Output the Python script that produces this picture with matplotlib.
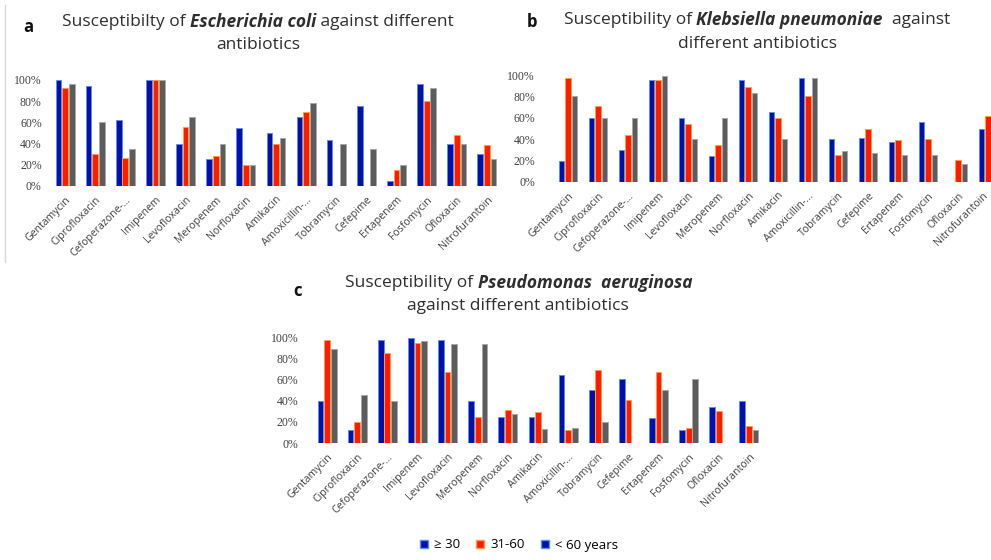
import numpy as np
import matplotlib
matplotlib.use('Agg')
import matplotlib.pyplot as plt
import matplotlib.transforms as mtransforms
from matplotlib.patches import Patch

# antibiotics (same order in all three panels)
antibiotics = ['Gentamycin', 'Ciprofloxacin', 'Cefoperazone-…', 'Imipenem', 'Levofloxacin',
               'Meropenem', 'Norfloxacin', 'Amikacin', 'Amoxicillin-…', 'Tobramycin',
               'Cefepime', 'Ertapenem', 'Fosfomycin', 'Ofloxacin', 'Nitrofurantoin']
legend_labels = ['≥ 30', '31-60', '< 60 years']

# a - Escherichia coli
ecoli_30 = [100, 94, 62, 100, 40, 25, 55, 50, 65, 43, 75, 5, 96, 40, 30]
ecoli_31_60 = [92, 30, 26, 100, 56, 28, 20, 40, 70, 0, 0, 15, 80, 48, 39]
ecoli_60 = [96, 60, 35, 100, 65, 40, 20, 45, 78, 40, 35, 20, 92, 40, 25]

# b - Klebsiella pneumoniae
kleb_30 = [20, 60, 30, 95, 60, 24, 95, 65, 97, 40, 41, 37, 56, 0, 50]
kleb_31_60 = [97, 71, 44, 95, 54, 35, 89, 60, 80, 25, 50, 39, 40, 21, 62]
kleb_60 = [80, 60, 60, 99, 40, 60, 83, 40, 97, 29, 27, 25, 25, 17, 45]

# c - Pseudomonas aeruginosa
pseudo_30 = [40, 12, 97, 99, 97, 40, 25, 25, 64, 50, 60, 24, 12, 34, 40]
pseudo_31_60 = [97, 20, 85, 94, 67, 25, 31, 29, 12, 69, 41, 67, 14, 30, 16]
pseudo_60 = [89, 45, 40, 96, 93, 93, 27, 13, 14, 20, 0, 50, 60, 0, 12]

W, H = 991, 560
fig = plt.figure(figsize=(W / 100, H / 100), dpi=100)

colors = ['#0010a8', '#ff1a00', '#5c5c5c']
edges = ['#5b8ff0', '#ffa040', '#a8a8a8']


def add_panel(left, top, width, bottom, series, pad):
    ax = fig.add_axes([left / W, 1 - bottom / H, width / W, (bottom - top) / H])
    x = np.arange(len(antibiotics))
    for i, vals in enumerate(series):
        v = np.array(vals, dtype=float) / 100
        v[v == 0] = np.nan
        ax.bar(x + (i - 1) * 0.22, v, width=0.19, color=colors[i],
               edgecolor=edges[i], linewidth=0.7)
    ax.set_xlim(-0.5, len(antibiotics) - 0.5)
    ax.set_ylim(0, 1)
    ax.set_yticks(np.arange(0, 1.01, 0.2))
    ax.set_yticklabels(['%d%%' % round(t * 100) for t in np.arange(0, 1.01, 0.2)],
                       fontfamily='Liberation Serif', fontsize=8.5, color='#404040')
    ax.set_xticks(x)
    ax.set_xticklabels(antibiotics, rotation=45, ha='right', rotation_mode='anchor',
                       fontfamily='Open Sans', fontsize=7.6, color='#404040')
    ax.tick_params(length=0, axis='y', pad=pad)
    ax.tick_params(length=0, axis='x', pad=6)
    for s in ax.spines.values():
        s.set_visible(False)
    ax.patch.set_alpha(0)
    return ax


add_panel(50, 80, 452, 186, [ecoli_30, ecoli_31_60, ecoli_60], 6)
# right edge of panel b runs past the picture, as in the original
axb = add_panel(553, 75, 450, 182, [kleb_30, kleb_31_60, kleb_60], 13)
last = axb.get_xticklabels()[-1]
last.set_transform(last.get_transform() + mtransforms.ScaledTranslation(-6 / 100, 0, fig.dpi_scale_trans))
add_panel(312, 337, 452, 443, [pseudo_30, pseudo_31_60, pseudo_60], 10)


def rich_line(xc, y, segs, size=12.5):
    texts = []
    for s, style in segs:
        t = fig.text(0, 1 - y / H, s, fontsize=size, fontfamily='Open Sans', color='#2e2e2e',
                     va='center', ha='left',
                     fontstyle='italic' if style else 'normal',
                     fontweight='bold' if style else 'normal')
        texts.append(t)
    fig.canvas.draw()
    r = fig.canvas.get_renderer()
    widths = [t.get_window_extent(r).width for t in texts]
    xx = xc - sum(widths) / 2
    for t, w in zip(texts, widths):
        t.set_x(xx / W)
        xx += w


rich_line(258, 22, [('Susceptibilty of ', 0), ('Escherichia coli', 1), (' against different', 0)])
rich_line(258, 45, [('antibiotics', 0)])
rich_line(757, 20, [('Susceptibility of ', 0), ('Klebsiella pneumoniae', 1), ('  against', 0)])
rich_line(757, 44, [('different antibiotics', 0)])
rich_line(519, 283, [('Susceptibility of ', 0), ('Pseudomonas  aeruginosa', 1)])
rich_line(518, 306, [('against different antibiotics', 0)])

for lab, xp, yp in [('a', 28, 27), ('b', 532, 22), ('c', 297, 291)]:
    fig.text(xp / W, 1 - yp / H, lab, fontsize=12, fontweight='bold', fontfamily='Open Sans',
             color='#111111', ha='center', va='center')

# thin frame line at the left of panel a
fig.add_artist(plt.Line2D([5 / W, 5 / W], [1 - 5 / H, 1 - 262 / H], color='#d8d8d8', lw=1))

handles = [Patch(facecolor=colors[0], edgecolor=edges[0]),
           Patch(facecolor=colors[1], edgecolor=edges[1]),
           Patch(facecolor=colors[0], edgecolor=edges[0])]
fig.legend(handles, legend_labels, loc='center', bbox_to_anchor=(519 / W, 1 - 545 / H), ncol=3,
           frameon=False, handlelength=0.6, handleheight=0.6, handletextpad=0.5,
           columnspacing=1.2, prop={'family': 'Open Sans', 'size': 9.5})

fig.savefig('out.png', dpi=100, facecolor='white')
